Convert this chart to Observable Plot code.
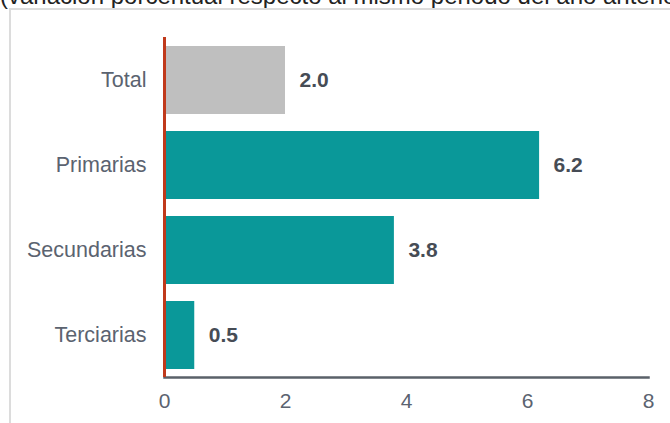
<!DOCTYPE html>
<html>
<head>
<meta charset="utf-8">
<script src="https://cdn.jsdelivr.net/npm/d3@7"></script>
<script src="https://cdn.jsdelivr.net/npm/@observablehq/plot@0.6"></script>
<style>
  html, body { margin: 0; padding: 0; background: #fff; }
  body { width: 670px; height: 423px; position: relative; overflow: hidden; font-family: "Liberation Sans", Arial, sans-serif; }
  #title { position: absolute; left: 0; top: -16px; font-size: 24px; line-height: 24px; color: #222; white-space: nowrap; }
  #box { position: absolute; left: 9px; top: 8px; width: 700px; height: 450px; border-left: 2px solid #dcdcdc; border-top: 2px solid #dcdcdc; }
  #chart { position: absolute; left: 0; top: 0; }
</style>
</head>
<body>
<div id="title">(variación porcentual respecto al mismo periodo del año anterior)</div>
<div id="box"></div>
<div id="chart"></div>
<script>
const categories = ["Total", "Primarias", "Secundarias", "Terciarias"];
const values = [2.0, 6.2, 3.8, 0.5];
const barColors = ["#bfbfbf", "#0a9899", "#0a9899", "#0a9899"];
const xTicks = [0, 2, 4, 6, 8];

const data = categories.map((c, i) => ({category: c, value: values[i], color: barColors[i]}));

const chart = Plot.plot({
  width: 670,
  height: 423,
  marginLeft: 164,
  marginRight: 22,
  marginTop: 37,
  marginBottom: 46,
  style: {background: "transparent", fontFamily: "'Liberation Sans', Arial, sans-serif"},
  x: {domain: [0, 8], ticks: xTicks, label: null},
  y: {domain: categories, paddingInner: 0.2, paddingOuter: 0.1},
  marks: [
    Plot.barX(data, {x: "value", y: "category", fill: "color"}),
    Plot.text(data, {x: "value", y: "category", text: d => d.value.toFixed(1), textAnchor: "start", dx: 14, fontSize: 21, fontWeight: "bold", fill: "#464c55"}),
    Plot.frame({anchor: "bottom", stroke: "#5a6169", strokeWidth: 2.5}),
    Plot.ruleX([0], {stroke: "#c0391b", strokeWidth: 3}),
    Plot.axisX({ticks: xTicks, tickSize: 0, tickPadding: 16, fontSize: 21, color: "#5b6370", tickFormat: d => String(d)}),
    Plot.axisY({tickSize: 0, tickPadding: 18, fontSize: 21.5, color: "#5b6370", label: null})
  ]
});
document.getElementById("chart").appendChild(chart);
</script>
</body>
</html>
